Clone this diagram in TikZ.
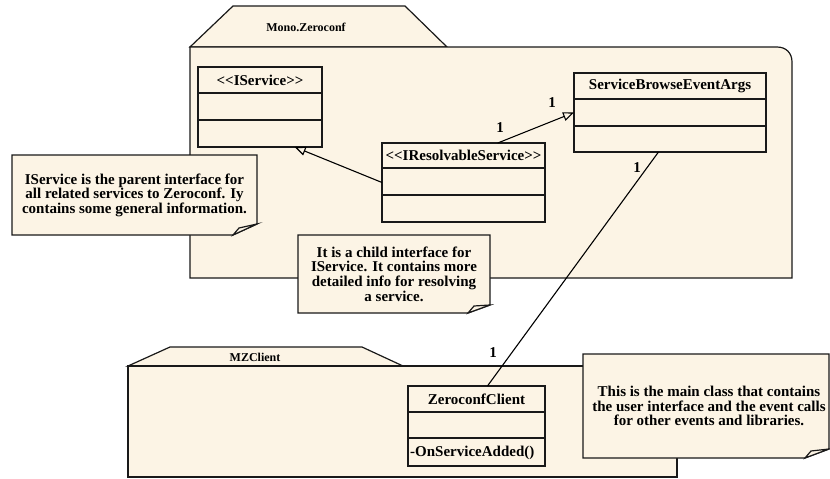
\documentclass[tikz,border=0pt]{standalone}
\usepackage{fontspec}
\setmainfont{Liberation Serif}
\usetikzlibrary{arrows.meta,calc}
\definecolor{cream}{RGB}{252,244,229}
\definecolor{ink}{RGB}{25,25,25}
\newcommand\ltlt{<\kern0pt<}
\newcommand\gtgt{>\kern0pt>}
\newcommand\dogear[3]{%
  \draw[pkgshape] (#1.north west) -- (#1.north east) -- ($(#1.south east)+(0,-#3)$)
     -- ($(#1.south east)+(-#2,0)$) -- (#1.south west) -- cycle;
  \draw[pkgshape] ($(#1.south east)+(-#2,0)$) -- ($(#1.south east)+(-#2+6,-7)$)
     -- ($(#1.south east)+(0,-#3)$) -- cycle;}
\begin{document}
\begin{tikzpicture}[x=1pt,y=-1pt,line join=miter,
  edge/.style={draw=ink, line width=1.2pt},
  pkgshape/.style={draw=ink, fill=cream, line width=1.2pt},
  pkglabel/.style={font=\bfseries\fontsize{12}{12}\selectfont, inner sep=0pt},
  clsbox/.style={draw=ink, fill=cream, line width=1.2pt, inner sep=0pt, outer sep=0pt},
  clstext/.style={font=\bfseries\fontsize{15}{15}\selectfont, inner sep=0pt},
  notearea/.style={inner sep=0pt, outer sep=0pt},
  notetext/.style={font=\bfseries\fontsize{15}{14.6}\selectfont, align=center, inner sep=0pt},
  mult/.style={font=\bfseries\fontsize{15}{15}\selectfont, inner sep=0pt},
  assoc/.style={draw=black, line width=1.1pt},
  genarrow/.style={assoc, -{Triangle[open, length=11pt, width=9pt]}}]
\useasboundingbox (0,0) rectangle (830,479);
\fill[white] (0,0) rectangle (830,479);

% ---- package Mono.Zeroconf
\draw[pkgshape] (190,47) -- (233,6) -- (405,6) -- (447,47) -- cycle;
\draw[pkgshape] (190,47) -- (777,47) .. controls (786,47) and (792,53) .. (792,62)
   -- (792,278) -- (190,278) -- cycle;
\node[pkglabel] (monolbl) at (306,27) {Mono.Zeroconf};

% ---- package MZClient
\draw[pkgshape] (128,366) -- (170,347) -- (362,347) -- (403,366) -- cycle;
\draw[pkgshape] (128,366) rectangle (677,477);
\node[pkglabel] (mzlbl) at (255,357) {MZClient};

% ---- notes
\node[notearea, minimum width=245pt, minimum height=80pt] (n1) at (134.5,195) {};
\dogear{n1}{24}{11}
\node[notetext] (n1t) at (n1.center) {IService is the parent interface for\\all related services to Zeroconf. Iy\\contains some general information.};

\node[notearea, minimum width=192pt, minimum height=78pt] (n2) at (394,274) {};
\dogear{n2}{22}{8}
\node[notetext] (n2t) at (n2.center) {It is a child interface for\\IService. It contains more\\detailed info for resolving\\a service.};

\node[notearea, minimum width=246pt, minimum height=104pt] (n3) at (706,406) {};
\dogear{n3}{24}{9}
\node[notetext] (n3t) at (709,406) {This is the main class that contains\\the user interface and the event calls\\for other events and libraries.};

% ---- classes
\node[clsbox, minimum width=124pt, minimum height=80pt] (isvc) at (260,107) {};
\draw[edge] ($(isvc.north west)+(0,26)$) -- ($(isvc.north east)+(0,26)$);
\draw[edge] ($(isvc.north west)+(0,53)$) -- ($(isvc.north east)+(0,53)$);
\node[clstext] (isvcname) at ($(isvc.north)+(0,13)$) {\ltlt IService\gtgt};

\node[clsbox, minimum width=163pt, minimum height=79pt] (ires) at (463.5,182.5) {};
\draw[edge] ($(ires.north west)+(0,25)$) -- ($(ires.north east)+(0,25)$);
\draw[edge] ($(ires.north west)+(0,52)$) -- ($(ires.north east)+(0,52)$);
\node[clstext] (iresname) at ($(ires.north)+(0,12.5)$) {\ltlt IResolvableService\gtgt};

\node[clsbox, minimum width=192pt, minimum height=79pt] (sbea) at (670,112.5) {};
\draw[edge] ($(sbea.north west)+(0,26)$) -- ($(sbea.north east)+(0,26)$);
\draw[edge] ($(sbea.north west)+(0,53)$) -- ($(sbea.north east)+(0,53)$);
\node[clstext] (sbeaname) at ($(sbea.north)+(0,13)$) {ServiceBrowseEventArgs};

\node[clsbox, minimum width=137pt, minimum height=80pt] (zc) at (476.5,426) {};
\draw[edge] ($(zc.north west)+(0,26)$) -- ($(zc.north east)+(0,26)$);
\draw[edge] ($(zc.north west)+(0,52)$) -- ($(zc.north east)+(0,52)$);
\node[clstext] (zcname) at ($(zc.north)+(0,13)$) {ZeroconfClient};
\node[clstext, anchor=west] (zcop) at ($(zc.south west)+(2,-13)$) {-OnServiceAdded()};

% ---- connectors
\draw[genarrow] (ires.west) -- ($(isvc.south east)!0.22!(isvc.south west)$);
\draw[genarrow] ($(ires.north west)!0.71!(ires.north east)$) -- (sbea.west);
\draw[assoc] ($(sbea.south west)!0.44!(sbea.south east)$) -- ($(zc.north west)!0.58!(zc.north east)$);

% ---- multiplicities
\node[mult] (m1) at (500,128) {1};
\node[mult] (m2) at (552,103) {1};
\node[mult] (m3) at (637,168) {1};
\node[mult] (m4) at (493,353) {1};
\end{tikzpicture}
\end{document}
